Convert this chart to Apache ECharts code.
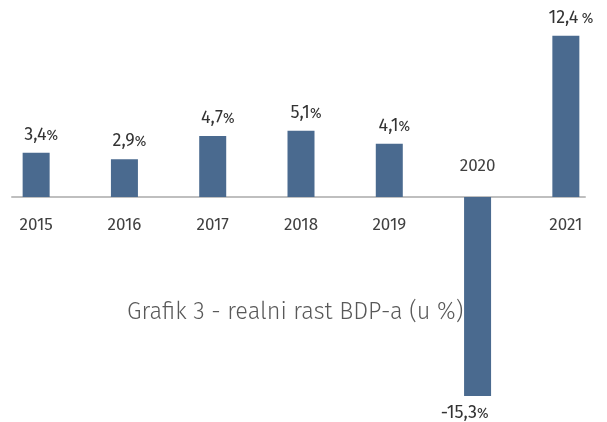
<!DOCTYPE html>
<html>
<head>
<meta charset="utf-8">
<script src="https://cdn.jsdelivr.net/npm/echarts@6/dist/echarts.min.js"></script>
<style>
  html, body { margin: 0; padding: 0; background: #fff; }
  #main { width: 607px; height: 422px; }
</style>
</head>
<body>
<div id="main"></div>
<script>
let years = ["2015", "2016", "2017", "2018", "2019", "2020", "2021"];
let growth = [3.4, 2.9, 4.7, 5.1, 4.1, -15.3, 12.4];
let titleText = "Grafik 3 - realni rast BDP-a (u %)";

let myChart = echarts.init(document.getElementById("main"));
let fontName = "'Fira Sans', 'Open Sans', sans-serif";

function formatValue(v) {
  return String(v.toFixed(1)).replace(".", ",");
}

let barData = [];
let yearData = [];
for (let i = 0; i < growth.length; i++) {
  let item = { value: growth[i] };
  let year = { value: years[i] };
  if (growth[i] < 0) {
    item.label = { position: "bottom", distance: 8, offset: [-13, 0] };
    // year of a negative bar goes above the zero line
    year.textStyle = { verticalAlign: "bottom", padding: [0, 0, 42, 0] };
  }
  barData.push(item);
  yearData.push(year);
}

let gridBase = { top: 15, bottom: 17, outerBoundsMode: "none", containLabel: false };

let option = {
  backgroundColor: "#ffffff",
  title: {
    text: titleText,
    left: 122,
    top: 295,
    textStyle: {
      fontFamily: fontName,
      fontSize: 23.5,
      fontWeight: 300,
      color: "#595959",
    },
  },
  grid: [
    Object.assign({}, gridBase, { left: -8, right: -3 }), // bars
    Object.assign({}, gridBase, { left: 12, right: 22 }), // zero line
    Object.assign({}, gridBase, { left: -8, right: -3, bottom: 225 }), // year labels, bottom edge = zero
  ],
  xAxis: [
    {
      type: "category",
      gridIndex: 0,
      data: years,
      axisLine: { show: false },
      axisTick: { show: false },
      axisLabel: { show: false },
    },
    {
      type: "category",
      gridIndex: 1,
      data: years,
      axisLine: { show: true, onZero: true, lineStyle: { color: "#bfbfbf", width: 2 } },
      axisTick: { show: false },
      axisLabel: { show: false },
    },
    {
      type: "category",
      gridIndex: 2,
      data: yearData,
      axisLine: { show: false, onZero: false },
      axisTick: { show: false },
      axisLabel: {
        margin: 20,
        fontFamily: fontName,
        fontSize: 17,
        color: "#404040",
      },
    },
  ],
  yAxis: [
    { type: "value", gridIndex: 0, show: false, min: -16, max: 14 },
    { type: "value", gridIndex: 1, show: false, min: -16, max: 14 },
    { type: "value", gridIndex: 2, show: false, min: 0, max: 14 },
  ],
  series: [
    {
      type: "bar",
      xAxisIndex: 0,
      yAxisIndex: 0,
      barWidth: 27,
      data: barData,
      itemStyle: { color: "#4a6a8f" },
      label: {
        show: true,
        position: "top",
        distance: 9,
        offset: [5, 0],
        formatter: function (p) {
          let gap = p.name === "2021" ? " " : "";
          return "{n|" + formatValue(p.value) + "}" + gap + "{p|%}";
        },
        rich: {
          n: { fontFamily: fontName, fontSize: 18, color: "#333333" },
          p: { fontFamily: fontName, fontSize: 14, color: "#333333", padding: [2, 0, 0, 0] },
        },
      },
    },
  ],
};

myChart.setOption(option);
</script>
</body>
</html>
